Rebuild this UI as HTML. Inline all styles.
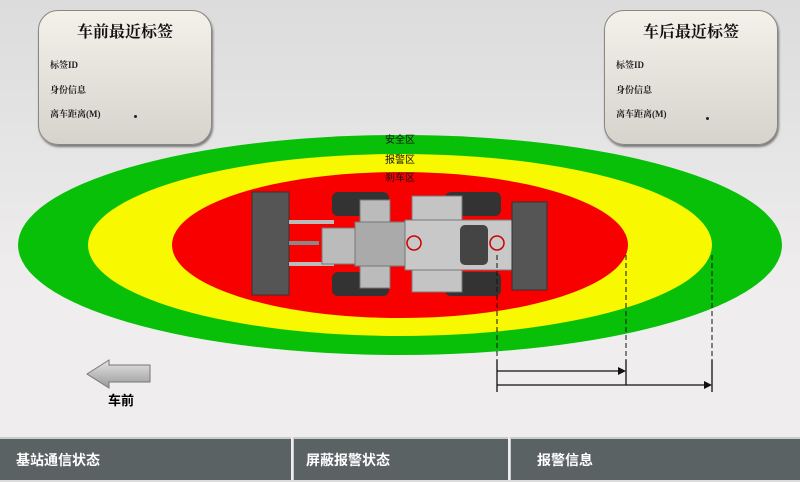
<!DOCTYPE html>
<html><head><meta charset="utf-8"><style>
body{margin:0;width:800px;height:480px;overflow:hidden;background:linear-gradient(#dcdcdc,#efeded 60%,#efedee);font-family:"Liberation Serif","Noto Serif CJK SC",serif;position:relative}
.box{position:absolute;top:10px;width:172px;height:133px;border-radius:20px;background:linear-gradient(#f4f0ea,#d6d2cc);border:1px solid #8a8680;box-shadow:1px 2px 2px #777}
.box h1{margin:0;position:absolute;top:8px;width:100%;text-align:center;font-size:16px;font-weight:bold;color:#111}
.box div{position:absolute;left:11px;font-size:9px;font-weight:bold;color:#222}
.dot{position:absolute;width:3px;height:3px;border-radius:50%;background:#222}
.bar{position:absolute;top:437px;height:43px;background:#5b6264;border-top:2px solid #c8cccc;color:#fff;font-family:"Liberation Sans","Noto Sans CJK SC",sans-serif;font-weight:bold;font-size:14px;line-height:43px;box-sizing:border-box}
</style></head><body>
<div class="box" style="left:38px"><h1>车前最近标签</h1><div style="top:47px">标签ID</div><div style="top:72px">身份信息</div><div style="top:96px">离车距离(M)</div><span class="dot" style="left:95px;top:104px"></span></div>
<div class="box" style="left:604px"><h1>车后最近标签</h1><div style="top:47px">标签ID</div><div style="top:72px">身份信息</div><div style="top:96px">离车距离(M)</div><span class="dot" style="left:101px;top:106px"></span></div>
<svg width="800" height="480" style="position:absolute;left:0;top:0">
<ellipse cx="400" cy="245" rx="382" ry="110" fill="#08c008"/>
<ellipse cx="400" cy="245" rx="312" ry="91" fill="#f8f800"/>
<ellipse cx="400" cy="245" rx="228" ry="73" fill="#f80000"/>
<g font-family="Liberation Sans,Noto Sans CJK SC,sans-serif" font-size="10" text-anchor="middle" fill="#111">
<text x="400" y="143">安全区</text><text x="400" y="163">报警区</text><text x="400" y="181">刹车区</text></g>
<!-- loader -->
<rect x="252" y="192" width="37" height="103" fill="#555" stroke="#333"/>
<rect x="289" y="220" width="45" height="4" fill="#bbb"/><rect x="289" y="262" width="45" height="4" fill="#bbb"/><rect x="289" y="241" width="30" height="4" fill="#888"/>
<rect x="322" y="228" width="35" height="36" fill="#bbb" stroke="#777"/>
<rect x="332" y="192" width="57" height="24" rx="6" fill="#333"/><rect x="332" y="272" width="57" height="24" rx="6" fill="#333"/>
<rect x="445" y="192" width="56" height="24" rx="6" fill="#333"/><rect x="445" y="272" width="56" height="24" rx="6" fill="#333"/>
<rect x="360" y="200" width="30" height="88" fill="#bbb" stroke="#777"/>
<rect x="355" y="222" width="55" height="44" fill="#aaa" stroke="#777"/>
<rect x="412" y="196" width="50" height="96" fill="#c4c4c4" stroke="#777"/>
<rect x="405" y="220" width="110" height="50" fill="#c8c8c8" stroke="#777"/>
<rect x="460" y="225" width="28" height="40" rx="5" fill="#444"/>
<rect x="512" y="202" width="35" height="88" fill="#555" stroke="#333"/>
<circle cx="414" cy="243" r="7" fill="none" stroke="#c00" stroke-width="1.5"/><circle cx="497" cy="243" r="7" fill="none" stroke="#c00" stroke-width="1.5"/>
<g stroke="#111" stroke-width="1" stroke-dasharray="5,3">
<line x1="497" y1="255" x2="497" y2="360"/><line x1="626" y1="255" x2="626" y2="360"/><line x1="712" y1="255" x2="712" y2="360"/></g>
<g stroke="#111" stroke-width="1.3">
<line x1="497" y1="360" x2="497" y2="392"/><line x1="626" y1="360" x2="626" y2="385"/><line x1="712" y1="360" x2="712" y2="392"/>
<line x1="497" y1="371" x2="620" y2="371"/><line x1="497" y1="385" x2="706" y2="385"/></g>
<polygon points="626,371 618,367 618,375" fill="#111"/><polygon points="712,385 704,381 704,389" fill="#111"/>
<defs><linearGradient id="g" x1="0" y1="0" x2="0" y2="1"><stop offset="0" stop-color="#e4e4e4"/><stop offset="1" stop-color="#999"/></linearGradient></defs>
<polygon points="87,374 109,360 109,365 150,365 150,382 109,382 109,388" fill="url(#g)" stroke="#777"/>
<text x="121" y="405" font-size="13" font-weight="bold" text-anchor="middle" font-family="Liberation Sans,Noto Sans CJK SC,sans-serif">车前</text>
</svg>
<div class="bar" style="left:0;width:291px;padding-left:16px">基站通信状态</div>
<div class="bar" style="left:293px;width:215px;padding-left:12px;border-left:1px solid #ccc">屏蔽报警状态</div>
<div class="bar" style="left:510px;width:290px;padding-left:26px;border-left:1px solid #ccc">报警信息</div>
</body></html>
